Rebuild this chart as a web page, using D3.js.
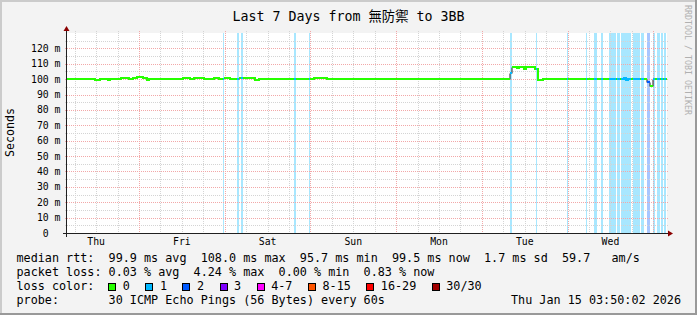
<!DOCTYPE html>
<html><head><meta charset="utf-8">
<script src="https://cdn.jsdelivr.net/npm/d3@7"></script>
<style>html,body{margin:0;padding:0;background:#fff;} svg{display:block}</style>
</head><body>
<svg id="c" width="697" height="315"></svg>
<script>
// ---------------- data ----------------
const titleText = "Last 7 Days from 無防禦 to 3BB";
const endTimeUTC = Date.UTC(2026, 0, 15, 3, 50, 2);
const spanHours = 168;
// median rtt step segments: start hour (from graph start), value in ms, loss class
const segHours = [0, 7.8, 9.2, 11.5, 12.0, 15.1, 17.4, 18.5, 19.6, 21.3, 22.4, 23.0,
  32.5, 34.4, 35.6, 38.4, 41.2, 42.6, 43.7, 44.0, 45.6, 47.6, 48.2, 48.6, 49.3,
  52.6, 53.8, 63.6, 64.2, 67.8, 68.1, 69.1, 72.8, 118.4, 124.1, 124.7, 126.0,
  126.6, 128.0, 128.5, 131.0, 131.3, 131.6, 131.9, 133.3, 139.9, 140.4, 145.3,
  145.6, 147.6, 148.3, 149.5, 150.1, 151.8, 153.7, 154.0, 154.8, 155.1, 156.0,
  156.5, 157.1, 157.8, 158.4, 160.5, 160.7, 161.6, 162.4, 163.3, 164.0, 164.7,
  165.1, 165.9, 166.2, 167.0, 167.2, 167.8];
const segMs = [99.8, 99.3, 99.8, 99.3, 99.8, 100.5, 99.8, 100.5, 101.2, 100.5, 99.3, 99.8,
  100.5, 99.8, 100.5, 99.8, 100.5, 99.8, 99.8, 100.5, 99.8, 99.8, 100.5, 100.5, 100.5,
  99.3, 99.8, 99.8, 99.8, 99.8, 99.8, 100.5, 99.8, 100.4, 104.0, 108.0, 107.5,
  108.0, 106.6, 108.0, 106.5, 106.5, 106.5, 99.3, 99.8, 99.8, 99.8, 99.8,
  99.8, 99.8, 99.8, 99.8, 99.8, 99.8, 99.8, 99.8, 99.8, 99.8, 100.8,
  99.2, 99.8, 99.8, 99.8, 99.8, 99.8, 99.8, 98.3, 95.7, 99.8, 99.8,
  99.8, 99.8, 99.8, 99.8, 99.8, 99.8];
const segLoss = [0, 0, 0, 0, 0, 0, 0, 0, 0, 0, 0, 0,
  0, 0, 0, 0, 0, 0, 1, 0, 0, 1, 0, 1, 0,
  0, 0, 1, 0, 1, 0, 0, 0, 0, 1, 0, 0,
  0, 0, 0, 0, 1, 0, 0, 0, 1, 0, 1,
  0, 1, 0, 1, 0, 1, 0, 1, 0, 1, 1,
  1, 1, 0, 1, 0, 1, 0, 2, 0, 1, 0,
  1, 0, 1, 0, 1, 0];
const yTicksMs = [0, 10, 20, 30, 40, 50, 60, 70, 80, 90, 100, 110, 120];
const yMaxMs = 130;
const lossLabels = ["0", "1", "2", "3", "4-7", "8-15", "16-29", "30/30"];
const lossColors = ["#26ff00", "#00b8ff", "#0059ff", "#7e00ff", "#ff00ff", "#ff5500", "#ff0000", "#a10000"];
const legendRtt = "median rtt:  99.9 ms avg  108.0 ms max  95.7 ms min  99.5 ms now  1.7 ms sd  59.7   am/s";
const legendLoss = "packet loss: 0.03 % avg  4.24 % max  0.00 % min  0.83 % now";
const legendColorHead = "loss color:";
const probeText = "probe:       30 ICMP Echo Pings (56 Bytes) every 60s";
const stampText = "Thu Jan 15 03:50:02 2026";
const yAxisTitle = "Seconds";
const watermark = "RRDTOOL / TOBI OETIKER";

// ---------------- layout ----------------
const W = 697, H = 315, L = 67, R = 667, T = 33, B = 233;
const MONO = "'DejaVu Sans Mono', 'Noto Sans CJK TC', monospace";
const nb = s => s.replace(/ /g, "\u00a0");
const svg = d3.select("#c");
const startTime = new Date(endTimeUTC - spanHours * 3600e3);
const endTime = new Date(endTimeUTC);
const x = d3.scaleUtc().domain([startTime, endTime]).range([L, R]);
const y = d3.scaleLinear().domain([0, yMaxMs]).range([B, T]);
const tOf = h => new Date(startTime.getTime() + h * 3600e3);

// background + shaded frame
svg.append("rect").attr("width", W).attr("height", H).attr("fill", "#f3f3f3");
svg.append("rect").attr("x", 0).attr("y", 0).attr("width", W).attr("height", 2).attr("fill", "#cbcbcb");
svg.append("rect").attr("x", 0).attr("y", 0).attr("width", 2).attr("height", H).attr("fill", "#cbcbcb");
svg.append("rect").attr("x", 0).attr("y", H - 2).attr("width", W).attr("height", 2).attr("fill", "#999999");
svg.append("rect").attr("x", W - 2).attr("y", 0).attr("width", 2).attr("height", H).attr("fill", "#999999");

// plot area
svg.append("rect").attr("x", L).attr("y", T).attr("width", R - L).attr("height", B - T).attr("fill", "#ffffff");

// segments
const segs = segHours.map((h, i) => ({
  t0: tOf(h), t1: tOf(i + 1 < segHours.length ? segHours[i + 1] : spanHours),
  v: segMs[i], loss: segLoss[i]
}));

// loss background bars
svg.append("g").selectAll("rect").data(segs.filter(s => s.loss > 0)).join("rect")
  .attr("x", s => Math.round(x(s.t0)))
  .attr("y", T)
  .attr("width", s => Math.max(1, Math.round(x(s.t1)) - Math.round(x(s.t0))))
  .attr("height", B - T)
  .attr("fill", s => lossColors[s.loss])
  .attr("fill-opacity", 0.34)
  .attr("shape-rendering", "crispEdges");

// grid
const grid = svg.append("g").attr("shape-rendering", "crispEdges");
const minorY = d3.range(5, yMaxMs, 10);
grid.selectAll(".hmin").data(minorY).join("line")
  .attr("x1", L - 2).attr("x2", R + 2)
  .attr("y1", d => Math.round(y(d)) + 0.5).attr("y2", d => Math.round(y(d)) + 0.5)
  .attr("stroke", "#d4d4d4").attr("stroke-dasharray", "1,1");
const minorX = d3.utcHour.every(6).range(startTime, endTime).filter(d => d.getUTCHours() !== 0);
grid.selectAll(".vmin").data(minorX).join("line")
  .attr("y1", T - 2).attr("y2", B + 2)
  .attr("x1", d => Math.round(x(d)) + 0.5).attr("x2", d => Math.round(x(d)) + 0.5)
  .attr("stroke", "#d4d4d4").attr("stroke-dasharray", "1,1");
grid.selectAll(".hmaj").data(yTicksMs.filter(d => d > 0)).join("line")
  .attr("x1", L - 2).attr("x2", R + 2)
  .attr("y1", d => Math.round(y(d)) + 0.5).attr("y2", d => Math.round(y(d)) + 0.5)
  .attr("stroke", "#f2a8a8").attr("stroke-dasharray", "1,1");
const majorX = d3.utcDay.range(startTime, endTime);
grid.selectAll(".vmaj").data(majorX).join("line")
  .attr("y1", T - 2).attr("y2", B + 2)
  .attr("x1", d => Math.round(x(d)) + 0.5).attr("x2", d => Math.round(x(d)) + 0.5)
  .attr("stroke", "#f2a8a8").attr("stroke-dasharray", "1,1");

// median line: dark thin step line, then loss coloured runs
const pts = segs.map(s => ({ t: s.t0, v: s.v }));
pts.push({ t: endTime, v: segs[segs.length - 1].v });
const line = d3.line().x(d => Math.round(x(d.t))).y(d => Math.round(y(d.v)) + 0.5).curve(d3.curveStepAfter);
svg.append("path").attr("d", line(pts)).attr("fill", "none").attr("stroke", "#202020").attr("stroke-width", 1);

const runs = [];
segs.forEach(s => {
  const last = runs[runs.length - 1];
  if (last && last.loss === s.loss) last.segs.push(s);
  else runs.push({ loss: s.loss, segs: [s] });
});
const line2 = d3.line().x(d => Math.round(x(d.t))).y(d => Math.round(y(d.v))).curve(d3.curveStepAfter);
runs.forEach(r => {
  const p = r.segs.map(s => ({ t: s.t0, v: s.v }));
  const ls = r.segs[r.segs.length - 1];
  p.push({ t: ls.t1, v: ls.v });
  svg.append("path").attr("d", line2(p)).attr("fill", "none")
    .attr("stroke", lossColors[r.loss]).attr("stroke-width", 2);
});

// axes
svg.append("line").attr("x1", L - 4).attr("x2", R + 1).attr("y1", B + 0.5).attr("y2", B + 0.5)
  .attr("stroke", "#202020").attr("shape-rendering", "crispEdges");
svg.append("line").attr("x1", L - 0.5).attr("x2", L - 0.5).attr("y1", B + 4).attr("y2", T - 3)
  .attr("stroke", "#202020").attr("shape-rendering", "crispEdges");
svg.append("path").attr("d", `M${R + 1},${B - 2.5}L${R + 6},${B + 0.5}L${R + 1},${B + 3.5}Z`).attr("fill", "#8b0000");
svg.append("path").attr("d", `M${L - 3.5},${T - 2}L${L - 0.5},${T - 7}L${L + 2.5},${T - 2}Z`).attr("fill", "#8b0000");

// y labels
const yl = svg.append("g").attr("font-family", MONO).attr("font-size", 9.8).attr("fill", "#000");
yl.selectAll(".n").data(yTicksMs).join("text")
  .attr("x", 48.7).attr("y", d => y(d)).attr("dy", "0.36em").attr("text-anchor", "end").text(d => d);
yl.selectAll(".u").data(yTicksMs.filter(d => d > 0)).join("text")
  .attr("x", 54.6).attr("y", d => y(d)).attr("dy", "0.36em").text("m");

// x labels at noon of each day
const noons = d3.utcHour.range(startTime, endTime).filter(d => d.getUTCHours() === 12);
svg.append("g").selectAll("text").data(noons).join("text")
  .attr("x", d => x(d)).attr("y", 245).attr("text-anchor", "middle")
  .attr("font-family", MONO).attr("font-size", 9.8).attr("fill", "#000")
  .text(d => d3.utcFormat("%a")(d));

// title
svg.append("text").attr("x", W / 2).attr("y", 21).attr("text-anchor", "middle")
  .attr("font-family", MONO).attr("font-size", 13.3).attr("fill", "#000").text(titleText);

// y axis title
svg.append("text").attr("transform", "translate(14,132.5) rotate(-90)").attr("text-anchor", "middle")
  .attr("font-family", MONO).attr("font-size", 11.6).attr("fill", "#000").text(yAxisTitle);

// watermark
svg.append("text").attr("transform", "translate(685,60) rotate(90)").attr("text-anchor", "middle")
  .attr("font-family", MONO).attr("font-size", 8.3).attr("fill", "#b0b0b0").text(watermark);

// legend
const cw = 7.09, fs = 11.78, lx = 16.5;
const lg = svg.append("g").attr("font-family", MONO).attr("font-size", fs).attr("fill", "#000");
lg.append("text").attr("x", lx).attr("y", 262).text(nb(legendRtt));
lg.append("text").attr("x", lx).attr("y", 276).text(nb(legendLoss));
lg.append("text").attr("x", lx).attr("y", 290).text(nb(legendColorHead));
lg.append("text").attr("x", lx).attr("y", 304).text(nb(probeText));
svg.append("text").attr("x", 681).attr("y", 304).attr("text-anchor", "end")
  .attr("font-family", MONO).attr("font-size", fs).attr("fill", "#000").text(nb(stampText));
let px = lx + 15 * cw;
lossLabels.forEach((lab, i) => {
  lg.append("rect").attr("x", Math.round(px - 14.6) + 0.5).attr("y", 283.5).attr("width", 7).attr("height", 7)
    .attr("fill", lossColors[i]).attr("stroke", "#000").attr("stroke-width", 1);
  lg.append("text").attr("x", px).attr("y", 290).text(lab);
  px += lab.length * cw + 30;
});
</script>
</body></html>
